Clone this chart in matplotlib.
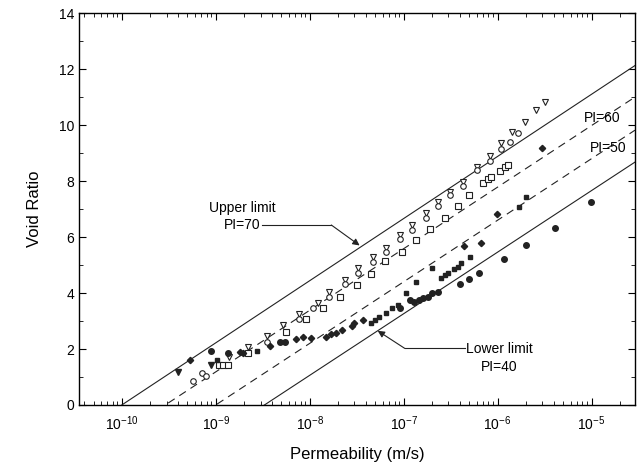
import numpy as np
import matplotlib
matplotlib.use("Agg")
import matplotlib.pyplot as plt

plt.rcParams['font.family'] = ['Liberation Sans', 'DejaVu Sans']
plt.rcParams['mathtext.fontset'] = 'custom'
plt.rcParams['mathtext.rm'] = 'Liberation Sans'

# boundary lines: permeability where void ratio = 0, slope per decade
line_labels = ['PI=70', 'PI=60', 'PI=50', 'PI=40']
line_k0 = [1.0e-10, 2.9e-10, 1.0e-9, 3.3e-9]
line_slope = [2.22, 2.2, 2.2, 2.2]
line_styles = ['-', '--', '--', '-']

# measured points (permeability m/s, void ratio)
tri_open_k = [1.4e-9, 2.2e-9, 3.5e-9, 5.2e-9, 7.7e-9, 1.22e-8, 1.6e-8, 2.36e-8, 3.27e-8,
              4.71e-8, 6.44e-8, 9.06e-8, 1.24e-7, 1.71e-7, 2.32e-7, 3.14e-7, 4.28e-7,
              6.03e-7, 8.22e-7, 1.09e-6, 1.43e-6, 1.94e-6, 2.58e-6, 3.16e-6]
tri_open_e = [1.70, 2.06, 2.46, 2.86, 3.25, 3.63, 4.05, 4.46, 4.88, 5.30, 5.60, 6.07,
              6.43, 6.85, 7.26, 7.62, 7.98, 8.51, 8.90, 9.35, 9.76, 10.12, 10.54, 10.83]

circ_open_k = [5.7e-10, 7.1e-10, 7.8e-10, 3.5e-9, 7.7e-9, 1.08e-8, 1.6e-8, 2.36e-8, 3.27e-8,
               4.71e-8, 6.44e-8, 9.06e-8, 1.24e-7, 1.71e-7, 2.32e-7, 3.14e-7, 4.28e-7,
               6.03e-7, 8.22e-7, 1.09e-6, 1.36e-6, 1.64e-6]
circ_open_e = [0.86, 1.15, 1.04, 2.26, 3.06, 3.45, 3.87, 4.31, 4.70, 5.12, 5.48, 5.92,
               6.25, 6.67, 7.10, 7.50, 7.82, 8.39, 8.71, 9.13, 9.40, 9.73]

sq_open_k = [1.08e-9, 1.2e-9, 1.35e-9, 2.2e-9, 5.6e-9, 9.1e-9, 1.38e-8, 2.12e-8, 3.18e-8,
             4.5e-8, 6.3e-8, 9.5e-8, 1.36e-7, 1.92e-7, 2.73e-7, 3.78e-7, 5.0e-7, 6.98e-7,
             7.9e-7, 8.6e-7, 1.07e-6, 1.19e-6, 1.29e-6]
sq_open_e = [1.43, 1.43, 1.43, 1.85, 2.62, 3.06, 3.45, 3.85, 4.29, 4.68, 5.14, 5.48,
             5.89, 6.27, 6.67, 7.10, 7.50, 7.92, 8.06, 8.13, 8.37, 8.49, 8.57]

circ_fill_k = [8.8e-10, 1.35e-9, 4.8e-9, 5.4e-9, 9.1e-8, 1.16e-7, 1.3e-7, 1.45e-7, 1.6e-7,
               1.8e-7, 2.0e-7, 2.3e-7, 4.0e-7, 5.0e-7, 6.3e-7, 1.16e-6, 1.99e-6, 4.04e-6,
               9.9e-6]
circ_fill_e = [1.94, 1.85, 2.26, 2.26, 3.45, 3.75, 3.69, 3.75, 3.81, 3.87, 3.99, 4.05,
               4.31, 4.50, 4.70, 5.20, 5.71, 6.32, 7.26]

sq_fill_k = [1.03e-9, 2.75e-9, 4.5e-8, 5.0e-8, 5.5e-8, 6.5e-8, 7.5e-8, 8.7e-8, 1.07e-7,
             1.36e-7, 2.02e-7, 2.5e-7, 2.75e-7, 3.0e-7, 3.4e-7, 3.8e-7, 4.1e-7, 5.1e-7,
             1.71e-6, 1.99e-6]
sq_fill_e = [1.61, 1.94, 2.92, 3.04, 3.15, 3.27, 3.45, 3.57, 3.99, 4.40, 4.88, 4.52,
             4.64, 4.73, 4.85, 4.92, 5.08, 5.27, 7.06, 7.42]

dia_fill_k = [5.3e-10, 1.8e-9, 1.95e-9, 3.75e-9, 7.2e-9, 8.5e-9, 1.04e-8, 1.5e-8, 1.7e-8,
              1.9e-8, 2.2e-8, 2.8e-8, 3.0e-8, 3.7e-8, 4.4e-7, 6.7e-7, 9.8e-7, 3.0e-6]
dia_fill_e = [1.61, 1.90, 1.87, 2.10, 2.35, 2.44, 2.38, 2.44, 2.54, 2.58, 2.68, 2.82,
              2.92, 3.04, 5.68, 5.80, 6.82, 9.18]

tri_fill_k = [4.0e-10, 9.0e-10]
tri_fill_e = [1.18, 1.43]

fig = plt.figure(figsize=(6.42, 4.69), dpi=100)
ax = fig.add_axes([0.123, 0.1365, 0.866, 0.8355])

xlim = (3.5e-11, 2.9e-5)
kk = np.logspace(np.log10(xlim[0]), np.log10(xlim[1]), 200)
for k0, s, ls in zip(line_k0, line_slope, line_styles):
    ee = s * np.log10(kk / k0)
    if ls == '--':
        ax.plot(kk, ee, color='#222222', lw=0.8, ls=(0, (7, 5)))
    else:
        ax.plot(kk, ee, color='#222222', lw=0.8)

ms = 4
ax.plot(tri_open_k, tri_open_e, 'v', mfc='white', mec='#222222', ms=ms, mew=0.8, ls='none')
ax.plot(circ_open_k, circ_open_e, 'o', mfc='white', mec='#222222', ms=ms, mew=0.8, ls='none')
ax.plot(sq_open_k, sq_open_e, 's', mfc='white', mec='#222222', ms=ms, mew=0.8, ls='none')
ax.plot(circ_fill_k, circ_fill_e, 'o', color='#222222', ms=ms, ls='none')
ax.plot(sq_fill_k, sq_fill_e, 's', color='#222222', ms=ms - 0.5, ls='none')
ax.plot(dia_fill_k, dia_fill_e, 'D', color='#222222', ms=ms - 0.8, ls='none')
ax.plot(tri_fill_k, tri_fill_e, 'v', color='#222222', ms=ms, ls='none')

ax.set_xscale('log')
ax.set_xlim(xlim)
ax.set_ylim(0, 14)
ax.set_yticks(range(0, 15, 2))
ax.set_xticks([1e-10, 1e-9, 1e-8, 1e-7, 1e-6, 1e-5])
ax.yaxis.set_minor_locator(matplotlib.ticker.MultipleLocator(1))
ax.tick_params(which='both', direction='in', top=True, right=True, labelsize=10)
ax.tick_params(which='major', length=5)
ax.tick_params(which='minor', length=3)
ax.tick_params(axis='x', pad=7)
for sp in ax.spines.values():
    sp.set_linewidth(1.0)

ax.set_xlabel('Permeability (m/s)', fontsize=12, labelpad=10)
ax.set_ylabel('Void Ratio', fontsize=12, labelpad=12)

# annotations
ax.text(1.94e-9, 7.04, 'Upper limit', ha='center', va='center', fontsize=10)
ax.text(3.0e-9, 6.43, 'PI=70', ha='right', va='center', fontsize=10)
ax.plot([3.1e-9, 1.7e-8], [6.43, 6.43], color='#222222', lw=0.8)
ax.annotate('', xy=(3.4e-8, 5.7), xytext=(1.7e-8, 6.43),
            arrowprops=dict(arrowstyle='-|>', color='#222222', lw=0.8,
                            mutation_scale=10, shrinkA=0, shrinkB=0))

ax.text(4.6e-7, 2.0, 'Lower limit', ha='left', va='center', fontsize=10)
ax.text(1.05e-6, 1.36, 'PI=40', ha='center', va='center', fontsize=10)
ax.plot([1.03e-7, 4.5e-7], [2.02, 2.02], color='#222222', lw=0.8)
ax.annotate('', xy=(5.3e-8, 2.65), xytext=(1.03e-7, 2.02),
            arrowprops=dict(arrowstyle='-|>', color='#222222', lw=0.8,
                            mutation_scale=10, shrinkA=0, shrinkB=0))

ax.text(1.31e-5, 10.25, 'PI=60', ha='center', va='center', fontsize=10)
ax.text(1.51e-5, 9.18, 'PI=50', ha='center', va='center', fontsize=10)

fig.savefig('out.png', dpi=100)
